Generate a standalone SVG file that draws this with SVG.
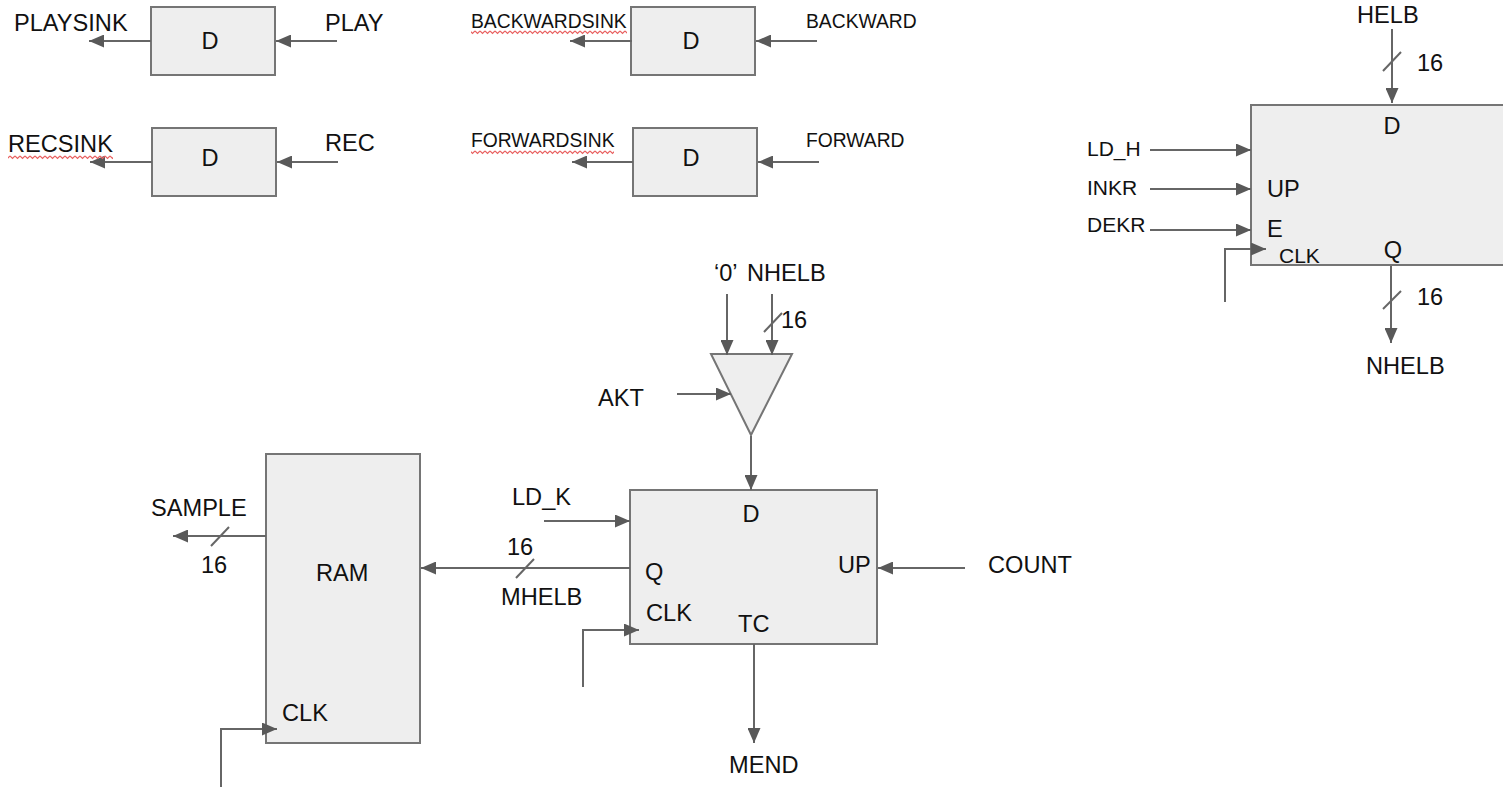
<svg xmlns="http://www.w3.org/2000/svg" width="1503" height="787" viewBox="0 0 1503 787">
<style>
text{font-family:"Liberation Sans",Arial,sans-serif;fill:#111;font-size:23.6px}
.s{font-size:19.3px}
.m{font-size:21px}
.box{fill:#eeeeee;stroke:#757575;stroke-width:2}
.c{fill:none;stroke:#666;stroke-width:2}
.a{marker-end:url(#arr)}
</style>
<defs>
<marker id="arr" markerUnits="userSpaceOnUse" markerWidth="16" markerHeight="13" refX="15" refY="6.5" orient="auto"><path d="M0 0L15 6.5L0 13Z" fill="#595959"/></marker>
<pattern id="wave" patternUnits="userSpaceOnUse" width="5" height="5"><path d="M0 1L2.5 3.5L5 1" fill="none" stroke="#e8605f" stroke-width="1.2"/></pattern>
</defs>
<rect width="1503" height="787" fill="#fff"/>
<g id="ff-play"><rect class="box" x="151" y="7" width="124" height="68"/><text x="210" y="49" text-anchor="middle">D</text></g>
<g id="ff-rec"><rect class="box" x="152" y="128" width="124" height="68"/><text x="210" y="166" text-anchor="middle">D</text></g>
<g id="ff-backward"><rect class="box" x="631" y="7" width="124" height="68"/><text x="691" y="49" text-anchor="middle">D</text></g>
<g id="ff-forward"><rect class="box" x="633" y="128" width="124" height="68"/><text x="691" y="166" text-anchor="middle">D</text></g>
<g id="counter-h"><path class="box" d="M1504 105H1251V265H1504"/><text x="1392" y="134" text-anchor="middle">D</text><text x="1267" y="197">UP</text><text x="1267" y="237">E</text><text x="1279" y="263" class="m">CLK</text><text x="1393" y="258" text-anchor="middle">Q</text></g>
<g id="mux"><path class="box" d="M711 354H792L751 435Z"/></g>
<g id="counter-m"><rect class="box" x="630" y="490" width="247" height="154"/><text x="751" y="522" text-anchor="middle">D</text><text x="645" y="580">Q</text><text x="646" y="621">CLK</text><text x="738" y="632">TC</text><text x="838" y="573">UP</text></g>
<g id="ram"><rect class="box" x="266" y="454" width="154" height="289"/><text x="316" y="581">RAM</text><text x="282" y="721">CLK</text></g>
<g id="connectors">
<path class="c a" d="M151 41H89"/><path class="c a" d="M337 41H276"/>
<path class="c a" d="M152 162H90"/><path class="c a" d="M338 162H277"/>
<path class="c a" d="M632 41H570"/><path class="c a" d="M817 41H756"/>
<path class="c a" d="M633 162H572"/><path class="c a" d="M819 162H758"/>
<path class="c a" d="M1392 29V103"/><path class="c" d="M1383 71L1401 52"/>
<path class="c a" d="M1150 150H1251"/><path class="c a" d="M1150 189H1251"/><path class="c a" d="M1150 230H1251"/>
<path class="c a" d="M1225 302V249H1266"/>
<path class="c a" d="M1391 266V343"/><path class="c" d="M1383 309L1401 291"/>
<path class="c a" d="M727 294V355"/><path class="c a" d="M772 294V355"/><path class="c" d="M764 332L782 313"/>
<path class="c a" d="M677 394H731"/>
<path class="c a" d="M751 436V490"/>
<path class="c a" d="M544 521H630"/>
<path class="c a" d="M630 568H421"/><path class="c" d="M516 578L534 559"/>
<path class="c a" d="M965 568H878"/>
<path class="c a" d="M583 687V630H639"/>
<path class="c a" d="M754 644V743"/>
<path class="c a" d="M266 536H173"/><path class="c" d="M211 546L229 527"/>
<path class="c a" d="M221 787V729H277"/>
</g>
<g id="labels">
<text x="14" y="31">PLAYSINK</text><text x="325" y="31">PLAY</text>
<text x="8" y="152">RECSINK</text><text x="325" y="151">REC</text>
<text x="471" y="28" class="s">BACKWARDSINK</text><text x="806" y="28" class="s">BACKWARD</text>
<text x="471" y="147" class="s">FORWARDSINK</text><text x="806" y="147" class="s">FORWARD</text>
<text x="1357" y="23">HELB</text><text x="1417" y="71">16</text>
<text x="1087" y="156" class="m">LD_H</text><text x="1087" y="195" class="m">INKR</text><text x="1087" y="232" class="m">DEKR</text>
<text x="1417" y="305">16</text><text x="1366" y="374">NHELB</text>
<text x="714" y="281">‘0’</text><text x="747" y="281">NHELB</text><text x="781" y="328">16</text>
<text x="598" y="406">AKT</text>
<text x="512" y="505">LD_K</text><text x="507" y="555">16</text><text x="501" y="605">MHELB</text>
<text x="988" y="573">COUNT</text><text x="729" y="773">MEND</text>
<text x="151" y="516">SAMPLE</text><text x="201" y="573">16</text>
</g>
<g id="spell-marks">
<rect x="8" y="155" width="105" height="5" fill="url(#wave)"/>
<rect x="471" y="30" width="156" height="5" fill="url(#wave)"/>
<rect x="471" y="150" width="143" height="5" fill="url(#wave)"/>
</g>
</svg>
